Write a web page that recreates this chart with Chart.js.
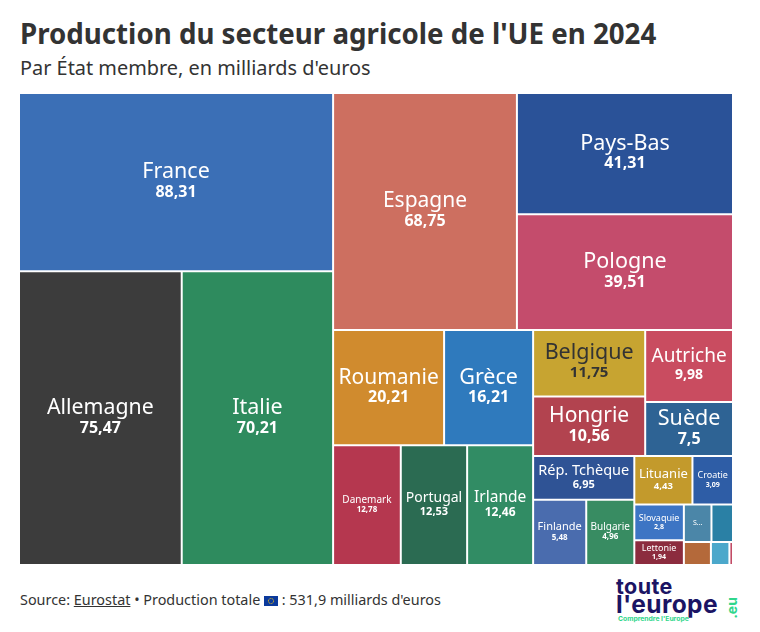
<!DOCTYPE html>
<html lang="fr">
<head>
<meta charset="utf-8">
<title>Production du secteur agricole de l'UE en 2024</title>
<script src="https://cdn.jsdelivr.net/npm/chart.js@4/dist/chart.umd.min.js"></script>
<style>
  html, body { margin: 0; padding: 0; background: #fff; }
  body { position: relative; width: 760px; height: 632px; overflow: hidden; font-family: "Noto Sans", sans-serif; color: #333; }
  h1, h2, p { position: absolute; margin: 0; white-space: nowrap; }
  h1 { left: 20px; top: 14px; font-size: 27.7px; line-height: 38px; font-weight: 700; }
  h2 { left: 20px; top: 54px; font-size: 19.9px; line-height: 27px; font-weight: 400; }
  #chartBox { position: absolute; left: 19px; top: 93px; width: 714px; height: 472px; }
  #source { left: 20px; top: 590px; font-size: 14.4px; line-height: 20px; }
  #source a { color: inherit; }
  #source svg { vertical-align: -1px; }
  .logo { position: absolute; white-space: nowrap; font-family: Inter, sans-serif; font-weight: 700; color: #1b1464; }
  #logo1 { left: 616px; top: 574px; font-size: 21.5px; line-height: 24px; letter-spacing: .4px; }
  #logo2 { left: 616px; top: 591px; font-size: 24.5px; line-height: 26px; letter-spacing: .4px; }
  #logo3 { left: 618px; top: 615px; font-size: 6.8px; line-height: 8px; color: #2fd68b; }
  #logo4 { left: 721px; top: 601px; font-size: 14px; line-height: 14px; color: #2fd68b; transform: rotate(-90deg); }
</style>
</head>
<body>
<h1>Production du secteur agricole de l'UE en 2024</h1>
<h2>Par État membre, en milliards d'euros</h2>
<div id="chartBox"><canvas id="treemap"></canvas></div>
<p id="source">Source: <a href="#">Eurostat</a> • Production totale
  <svg width="14" height="10" viewBox="0 0 14 10"><rect width="14" height="10" fill="#0b3a9c"/><circle cx="7" cy="5" r="2.6" fill="none" stroke="#f5c518" stroke-width="1" stroke-dasharray="1 .6"/></svg>
  : 531,9 milliards d'euros</p>
<div class="logo" id="logo1">toute</div>
<div class="logo" id="logo2">l'europe</div>
<div class="logo" id="logo3">Comprendre l'Europe</div>
<div class="logo" id="logo4">.eu</div>

<script>
const categories = ['France', 'Allemagne', 'Italie', 'Espagne', 'Pays-Bas', 'Pologne', 'Roumanie', 'Grèce',
  'Danemark', 'Portugal', 'Irlande', 'Belgique', 'Hongrie', 'Autriche', 'Suède', 'Rép. Tchèque', 'Finlande',
  'Bulgarie', 'Lituanie', 'Croatie', 'Slovaquie', 'Lettonie', 'Slovénie', 'Estonie', 'Chypre', 'Luxembourg', 'Malte'];
const values = [88.31, 75.47, 70.21, 68.75, 41.31, 39.51, 20.21, 16.21,
  12.78, 12.53, 12.46, 11.75, 10.56, 9.98, 7.5, 6.95, 5.48,
  4.96, 4.43, 3.09, 2.8, 1.94, 1.64, 1.28, 0.98, 0.67, 0.13];
const colors = ['#3b6fb6', '#3c3c3c', '#2e8b5e', '#cd6f60', '#2a5298', '#c44c6c', '#d08b2e', '#2f7abd',
  '#b5374f', '#2b6b52', '#318c64', '#c7a431', '#b2434f', '#c94c60', '#2e6394', '#2f5395', '#4a6cae',
  '#388c62', '#c39a2c', '#2e5da6', '#3d75c4', '#8c2c3e', '#4b86a8', '#2a80a5', '#b4693a', '#4ba8cb', '#c24c66'];
// taille du nom / taille de la valeur ; 0 = pas de texte
const nameSizes = [21.5, 21.3, 21.5, 21, 21.5, 21.5, 21, 21.5, 10, 14, 15.5, 21.5, 21, 19, 21.5, 14.5, 11, 10, 13, 9, 9, 9, 7, 0, 0, 0, 0];
const valueSizes = [16, 16, 16, 16, 16, 16, 16, 16, 8, 11, 12, 15, 16, 14, 16, 11, 8, 8, 9.5, 7, 7, 7, 0, 0, 0, 0, 0];
const shortNames = { 'Slovénie': 'S...' };

// Découpage du treemap : 'h' = côte à côte, 'v' = empilé
const splits = ['h',
  ['v', 'France', ['h', 'Allemagne', 'Italie']],
  ['v',
    ['h', 'Espagne', ['v', 'Pays-Bas', 'Pologne']],
    ['h',
      ['v', ['h', 'Roumanie', 'Grèce'], ['h', 'Danemark', 'Portugal', 'Irlande']],
      ['v',
        ['h', ['v', 'Belgique', 'Hongrie'], ['v', 'Autriche', 'Suède']],
        ['h',
          ['v', 'Rép. Tchèque', ['h', 'Finlande', 'Bulgarie']],
          ['v',
            ['h', 'Lituanie', 'Croatie'],
            ['h',
              ['v', 'Slovaquie', 'Lettonie'],
              ['v', ['h', 'Slovénie', 'Estonie'], ['h', 'Chypre', 'Luxembourg', 'Malte']]
            ]
          ]
        ]
      ]
    ]
  ]
];

const total = values.reduce((a, b) => a + b, 0);

function weight(node) {
  if (typeof node === 'string') return values[categories.indexOf(node)];
  return node.slice(1).reduce((sum, kid) => sum + weight(kid), 0);
}

// Chaque cellule reçoit un rectangle exprimé dans l'unité des axes (0 -> total)
function layout(node, x0, x1, y0, y1, out) {
  if (typeof node === 'string') {
    out[categories.indexOf(node)] = { x0, x1, y0, y1 };
    return out;
  }
  const w = weight(node);
  let pos = node[0] === 'h' ? x0 : y0;
  node.slice(1).forEach(kid => {
    const share = weight(kid) / w;
    if (node[0] === 'h') {
      const next = pos + (x1 - x0) * share;
      layout(kid, pos, next, y0, y1, out);
      pos = next;
    } else {
      const next = pos + (y1 - y0) * share;
      layout(kid, x0, x1, pos, next, out);
      pos = next;
    }
  });
  return out;
}

// Contrôleur minimal : des BarElement placés via les échelles x et y
class TreemapController extends Chart.DatasetController {
  update(mode) {
    const meta = this.getMeta();
    this.updateElements(meta.data, 0, meta.data.length, mode);
  }
  updateElements(rects, start, count, mode) {
    const xs = this.getScaleForId('x');
    const ys = this.getScaleForId('y');
    const ds = this.getDataset();
    for (let i = start; i < start + count; i++) {
      const cell = ds.data[i];
      const left = xs.getPixelForValue(cell.x0);
      const right = xs.getPixelForValue(cell.x1);
      const top = ys.getPixelForValue(cell.y0);
      const bottom = ys.getPixelForValue(cell.y1);
      this.updateElement(rects[i], i, {
        x: (left + right) / 2,
        y: top,
        base: bottom,
        width: right - left,
        height: bottom - top,
        horizontal: false,
        borderSkipped: {},
        enableBorderRadius: false,
        inflateAmount: 0,
        options: {
          backgroundColor: ds.backgroundColor[i],
          borderColor: ds.borderColor,
          borderWidth: ds.borderWidth,
          borderRadius: 0
        }
      }, mode);
    }
  }
  getMinMax() {
    return { min: 0, max: total };
  }
  parse() {}
  draw() {
    const meta = this.getMeta();
    meta.data.forEach(rect => rect.draw(this.chart.ctx));
  }
}
TreemapController.id = 'treemap';
TreemapController.defaults = { dataElementType: 'bar', parsing: false };
Chart.register(TreemapController, Chart.BarElement, Chart.LinearScale);

// Nom et valeur centrés dans chaque cellule
const cellLabels = {
  id: 'cellLabels',
  afterDatasetsDraw(chart) {
    const { ctx } = chart;
    const rects = chart.getDatasetMeta(0).data;
    ctx.save();
    ctx.textAlign = 'center';
    ctx.textBaseline = 'middle';
    rects.forEach((rect, i) => {
      const nameSize = nameSizes[i];
      const valueSize = valueSizes[i];
      if (!nameSize) return;
      const cy = (rect.y + rect.base) / 2;
      const gap = (nameSize + valueSize) * 0.54;
      ctx.fillStyle = categories[i] === 'Belgique' ? '#333333' : '#ffffff';
      ctx.font = '400 ' + nameSize + 'px "Noto Sans", sans-serif';
      const name = shortNames[categories[i]] || categories[i];
      ctx.fillText(name, rect.x, valueSize ? cy - gap / 2 : cy);
      if (valueSize) {
        ctx.font = '700 ' + valueSize + 'px "Noto Sans", sans-serif';
        ctx.fillText(String(values[i]).replace('.', ','), rect.x, cy + gap / 2);
      }
    });
    ctx.restore();
  }
};

document.addEventListener('DOMContentLoaded', () => {
  const cells = layout(splits, 0, total, 0, total, []);
  new Chart(document.getElementById('treemap'), {
    type: 'treemap',
    plugins: [cellLabels],
    data: {
      labels: categories,
      datasets: [{
        label: 'Production (milliards d\'euros)',
        data: cells,
        backgroundColor: colors,
        borderColor: '#ffffff',
        borderWidth: 1
      }]
    },
    options: {
      responsive: true,
      maintainAspectRatio: false,
      animation: false,
      layout: { padding: 0 },
      plugins: { legend: { display: false }, tooltip: { enabled: false } },
      scales: {
        x: { type: 'linear', display: false, min: 0, max: total },
        y: { type: 'linear', display: false, min: 0, max: total, reverse: true }
      }
    }
  });
});
</script>
</body>
</html>
